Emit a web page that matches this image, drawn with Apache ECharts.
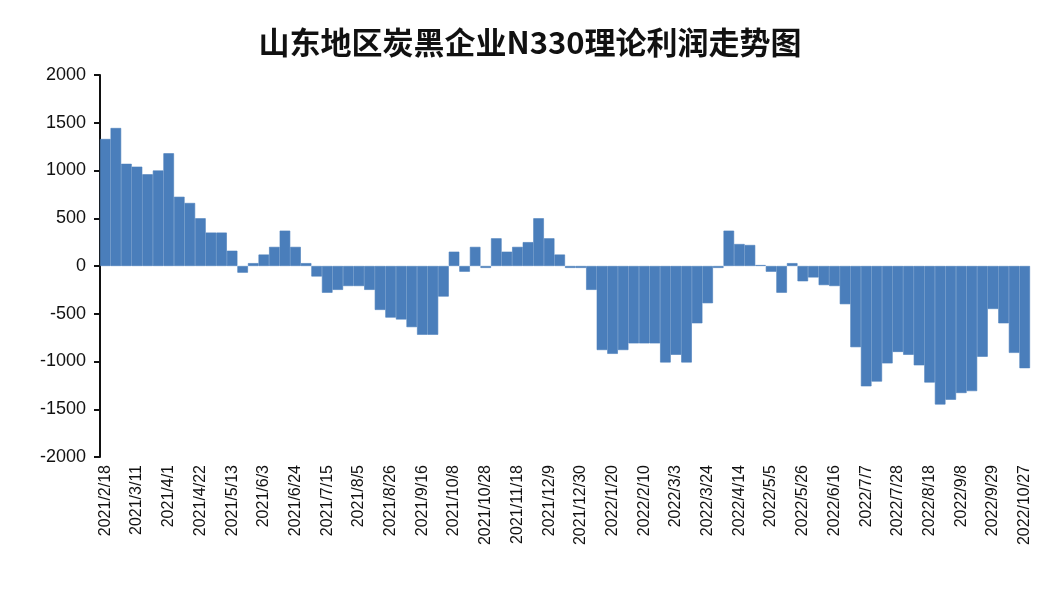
<!DOCTYPE html>
<html><head><meta charset="utf-8">
<script src="https://cdn.jsdelivr.net/npm/echarts@6/dist/echarts.min.js"></script>
<style>html,body{margin:0;padding:0;background:#fff}#main{width:1060px;height:606px}</style>
</head><body><div id="main"></div>
<script>
// 周度日期段（国庆假期前后日期不规则）
var dateRuns = [
  { start: [2021, 2, 18], weeks: 33 },
  { start: [2021, 10, 8], weeks: 1 },
  { start: [2021, 10, 14], weeks: 51 },
  { start: [2022, 10, 13], weeks: 3 }
];
var profit = [
  1330, 1445, 1070, 1040, 960, 1000, 1180, 725, 660, 500,
  350, 350, 160, -70, 30, 120, 200, 370, 200, 30,
  -110, -280, -250, -210, -210, -250, -460, -540, -560, -640,
  -720, -720, -320, 150, -60, 200, -20, 290, 150, 200,
  250, 500, 290, 120, -20, -20, -250, -880, -920, -880,
  -810, -810, -810, -1010, -930, -1010, -600, -390, -20, 370,
  230, 220, 10, -60, -280, 30, -160, -120, -200,
  -210, -400, -850, -1260, -1210, -1020, -900, -930, -1040, -1220,
  -1450, -1400, -1330, -1310, -950, -450, -600, -910, -1070
];
var yTicks = [-2000, -1500, -1000, -500, 0, 500, 1000, 1500, 2000];

var dates = [];
dateRuns.forEach(function (r) {
  for (var i = 0; i < r.weeks; i++) {
    var d = new Date(r.start[0], r.start[1] - 1, r.start[2] + 7 * i);
    dates.push(d.getFullYear() + '/' + (d.getMonth() + 1) + '/' + d.getDate());
  }
});

var myChart = echarts.init(document.getElementById('main'));
var option = {
  animation: false,
  title: {
    text: '山东地区炭黑企业N330理论利润走势图',
    left: 'center', top: 22,
    textStyle: { fontSize: 31, fontWeight: 'bold', color: '#111', fontFamily: 'Noto Sans CJK SC' }
  },
  grid: { left: 100, right: 30, top: 75, bottom: 149 },
  xAxis: {
    type: 'category',
    data: dates,
    axisLine: { show: false },
    axisTick: { show: false },
    axisLabel: {
      interval: 2, rotate: 90, fontSize: 16, color: '#111', margin: 8,
      fontFamily: 'Liberation Sans'
    }
  },
  yAxis: {
    type: 'value', min: yTicks[0], max: yTicks[yTicks.length - 1], interval: 500,
    splitLine: { show: false },
    axisLine: { show: true, lineStyle: { color: '#111', width: 2 } },
    axisTick: { show: true, inside: false, length: 6, lineStyle: { color: '#111', width: 2 } },
    axisLabel: {
      fontSize: 18, color: '#111', margin: 14, fontFamily: 'Liberation Sans',
      formatter: function (v) { return String(v); }
    }
  },
  series: [{
    type: 'bar',
    data: profit,
    barCategoryGap: '0%',
    itemStyle: { color: '#4a7ebb', borderColor: '#4a7ebb', borderWidth: 0.6 }
  }]
};
myChart.setOption(option);
</script></body></html>
